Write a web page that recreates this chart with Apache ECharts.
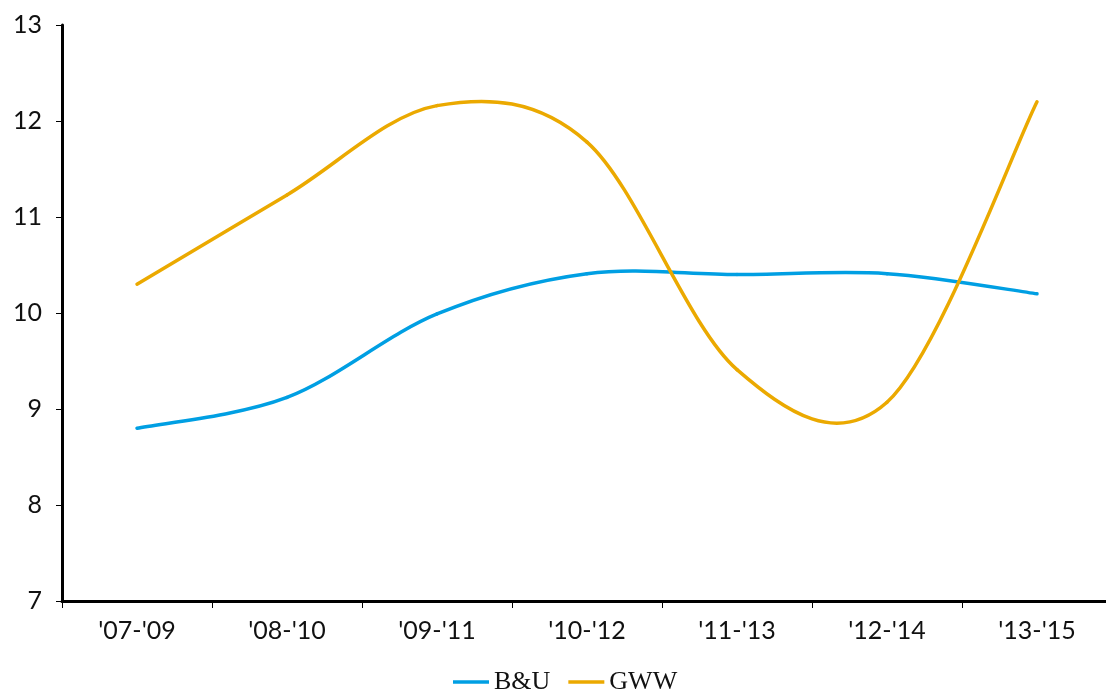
<!DOCTYPE html>
<html>
<head>
<meta charset="utf-8">
<script src="https://cdn.jsdelivr.net/npm/echarts@6/dist/echarts.min.js"></script>
<style>html,body{margin:0;padding:0;background:#fff;overflow:hidden}#c{width:1112px;height:691px}</style>
</head>
<body>
<div id="c"></div>
<script>
const categories = ["'07-'09", "'08-'10", "'09-'11", "'10-'12", "'11-'13", "'12-'14", "'13-'15"];
const seriesNames = ["B&U", "GWW"];
const buValues = [8.8, 9.12, 9.99, 10.41, 10.4, 10.41, 10.2];
const gwwValues = [10.3, 11.23, 12.16, 11.78, 9.41, 9.07, 12.2];
const seriesColors = ['#009FE3', '#EBA900'];
const yMin = 7, yMax = 13, yInterval = 1;

// Excel-style smoothed segment (Catmull-Rom converted to cubic Bezier)
function makeRenderItem(values, color) {
  return function (params, api) {
    const i = params.dataIndex;
    const n = values.length;
    if (i >= n - 1) return null;
    const p = k => api.coord([Math.max(0, Math.min(n - 1, k)), values[Math.max(0, Math.min(n - 1, k))]]);
    const p0 = p(i - 1), p1 = p(i), p2 = p(i + 1), p3 = p(i + 2);
    const cp1 = [p1[0] + (p2[0] - p0[0]) / 6, p1[1] + (p2[1] - p0[1]) / 6];
    const cp2 = [p2[0] - (p3[0] - p1[0]) / 6, p2[1] - (p3[1] - p1[1]) / 6];
    return {
      type: 'bezierCurve',
      shape: { x1: p1[0], y1: p1[1], x2: p2[0], y2: p2[1], cpx1: cp1[0], cpy1: cp1[1], cpx2: cp2[0], cpy2: cp2[1] },
      style: { fill: null, stroke: color, lineWidth: 3.5, lineCap: 'round' },
      silent: true
    };
  };
}

const chart = echarts.init(document.getElementById('c'));
chart.setOption({
  animation: false,
  grid: { left: 62, top: 25, right: 0, bottom: 90, containLabel: false },
  legend: {
    data: seriesNames.map(n => ({ name: n, icon: 'rect' })),
    left: 448, top: 664,
    itemWidth: 36, itemHeight: 3.5, itemGap: 18,
    textStyle: { fontFamily: 'Liberation Serif', fontSize: 26, color: '#111' }
  },
  xAxis: {
    type: 'category',
    data: categories,
    boundaryGap: true,
    axisLine: { lineStyle: { color: '#000', width: 3 } },
    axisTick: { show: true, length: 7, lineStyle: { color: '#000', width: 1 } },
    axisLabel: { margin: 17, fontFamily: 'Lato', fontSize: 25, color: '#111' },
    splitLine: { show: false }
  },
  yAxis: {
    type: 'value',
    min: yMin, max: yMax, interval: yInterval,
    axisLine: { show: true, lineStyle: { color: '#000', width: 3 } },
    axisTick: { show: true, length: 6, lineStyle: { color: '#000', width: 1 } },
    axisLabel: { margin: 20, fontFamily: 'Lato', fontSize: 25, color: '#111' },
    splitLine: { show: false }
  },
  series: [
    { name: seriesNames[0], type: 'custom', data: buValues.map((v, i) => [i, v]),
      encode: { x: 0, y: 1 }, clip: false,
      itemStyle: { color: seriesColors[0] },
      renderItem: makeRenderItem(buValues, seriesColors[0]) },
    { name: seriesNames[1], type: 'custom', data: gwwValues.map((v, i) => [i, v]),
      encode: { x: 0, y: 1 }, clip: false,
      itemStyle: { color: seriesColors[1] },
      renderItem: makeRenderItem(gwwValues, seriesColors[1]) }
  ]
});
</script>
</body>
</html>
